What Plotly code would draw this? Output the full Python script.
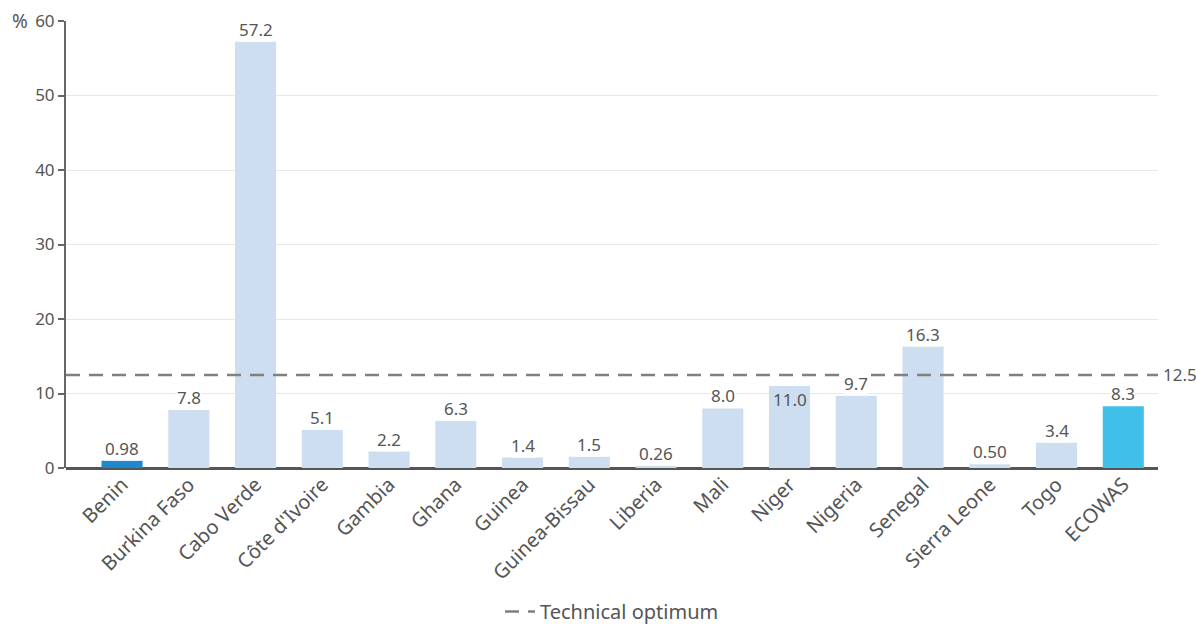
import plotly.graph_objects as go

countries = ["Benin", "Burkina Faso", "Cabo Verde", "Côte d'Ivoire", "Gambia", "Ghana",
             "Guinea", "Guinea-Bissau", "Liberia", "Mali", "Niger", "Nigeria", "Senegal",
             "Sierra Leone", "Togo", "ECOWAS"]
values = [0.98, 7.8, 57.2, 5.1, 2.2, 6.3, 1.4, 1.5, 0.26, 8.0, 11.0, 9.7, 16.3, 0.50, 3.4, 8.3]
labels = ["0.98", "7.8", "57.2", "5.1", "2.2", "6.3", "1.4", "1.5", "0.26", "8.0", "11.0",
          "9.7", "16.3", "0.50", "3.4", "8.3"]
optimum = 12.5
y_ticks = [0, 10, 20, 30, 40, 50, 60]

LIGHT = "#ccdef0"
colors = [LIGHT] * len(countries)
colors[0] = "#1f88cc"
colors[-1] = "#40c0e8"

FONT = "Noto Sans"
TXT = "#555555"

fig = go.Figure()
fig.add_trace(go.Bar(
    x=countries, y=values, marker_color=colors, marker_line_width=0,
    width=0.615, showlegend=False, hoverinfo="x+y",
))

annotations = []
for c, v, t in zip(countries, values, labels):
    inside = (v < optimum) and (v + 2.2 > optimum)
    annotations.append(dict(
        x=c, y=v, text=t, showarrow=False, xref="x", yref="y",
        yanchor="top" if inside else "bottom", yshift=-1 if inside else 0,
        font=dict(family=FONT, size=17, color=TXT),
        bgcolor=None if inside else "white", borderpad=0,
    ))
annotations.append(dict(x=1.003, xref="paper", y=optimum, yref="y", text="12.5",
                        showarrow=False, xanchor="left",
                        font=dict(family=FONT, size=17, color=TXT)))
annotations.append(dict(x=0.0, xref="paper", xshift=-36, y=60, yref="y", text="%",
                        showarrow=False, xanchor="right",
                        font=dict(family=FONT, size=19, color=TXT)))

fig.update_layout(
    width=1196, height=624,
    margin=dict(l=66, r=38, t=21, b=156),
    paper_bgcolor="white", plot_bgcolor="white",
    font=dict(family=FONT, size=17, color=TXT),
    annotations=annotations,
    shapes=[dict(type="line", xref="paper", x0=0, x1=1, yref="y", y0=optimum, y1=optimum,
                 line=dict(color="#808080", width=2.5, dash="14px,9px"),
                 showlegend=True, name="Technical optimum")],
    legend=dict(orientation="h", x=0.5, xanchor="center", yref="container", y=0.02,
                yanchor="middle", font=dict(family=FONT, size=20, color=TXT)),
    xaxis=dict(tickangle=-45, tickfont=dict(family=FONT, size=20, color=TXT),
               range=[-0.84, 15.52], showline=False, ticks="", showgrid=False,
               automargin=False),
    yaxis=dict(range=[0, 60], tickvals=y_ticks, showgrid=True, gridcolor="#e8e8e8",
               gridwidth=1, showline=True, linecolor="#666666", linewidth=2,
               ticks="outside", ticklen=6, tickcolor="#666666", tickwidth=1.5,
               zeroline=True, zerolinecolor="#555555", zerolinewidth=3,
               automargin=False,
               tickfont=dict(family=FONT, size=17, color=TXT)),
)

fig.write_html("out.html")
